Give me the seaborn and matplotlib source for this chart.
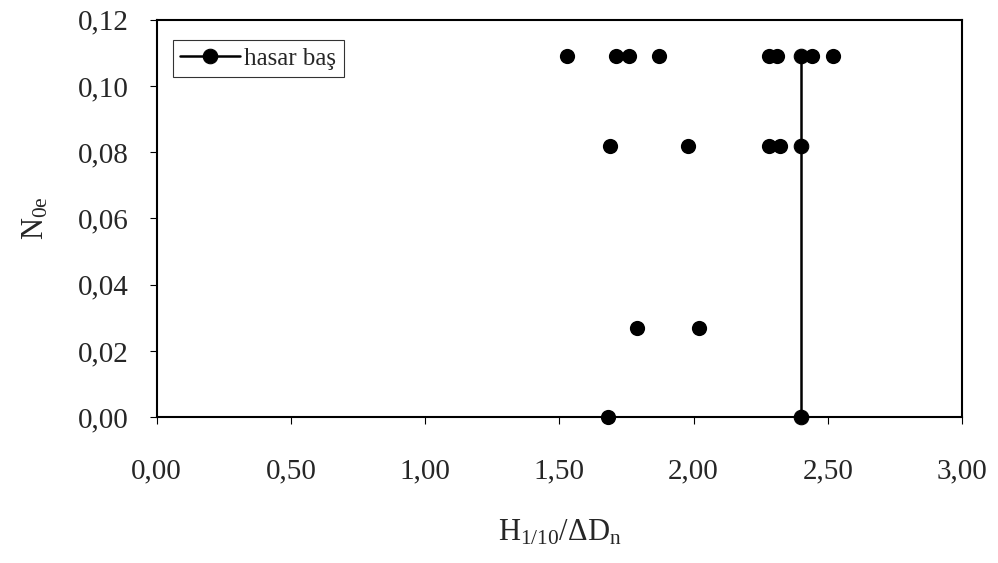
import matplotlib
matplotlib.use("Agg")
import matplotlib.pyplot as plt
import seaborn as sns

# damage onset series (connected)
hasar_x = [2.40, 2.40, 2.40]
hasar_y = [0.000, 0.082, 0.109]

# remaining measured points
pts_x = [1.53, 1.71, 1.76, 1.87, 2.28, 2.31, 2.44, 2.52,
         1.69, 1.98, 2.28, 2.32,
         1.79, 2.02,
         1.68]
pts_y = [0.109, 0.109, 0.109, 0.109, 0.109, 0.109, 0.109, 0.109,
         0.082, 0.082, 0.082, 0.082,
         0.027, 0.027,
         0.000]

x_ticks = [0.0, 0.5, 1.0, 1.5, 2.0, 2.5, 3.0]
y_ticks = [0.00, 0.02, 0.04, 0.06, 0.08, 0.10, 0.12]

sns.set_theme(style="white")
plt.rcParams['font.family'] = ['Liberation Serif', 'DejaVu Serif']
plt.rcParams['mathtext.fontset'] = 'custom'
plt.rcParams['mathtext.rm'] = 'Liberation Serif'
plt.rcParams['mathtext.it'] = 'Liberation Serif:italic'

fig = plt.figure(figsize=(9.98, 5.63), dpi=100)
ax = fig.add_axes([0.157, 0.259, 0.807, 0.706])

sns.scatterplot(x=pts_x, y=pts_y, ax=ax, color='black', s=120,
                edgecolor='black', linewidth=0, legend=False, zorder=3,
                clip_on=False)
sns.lineplot(x=hasar_x, y=hasar_y, ax=ax, color='black', marker='o',
             markersize=10.5, markeredgecolor='black', linewidth=1.8,
             estimator=None, sort=False, label='hasar baş', zorder=4,
             clip_on=False)

ax.set_xlim(0, 3.0)
ax.set_ylim(0, 0.12)
ax.set_xticks(x_ticks)
ax.set_yticks(y_ticks)
ax.set_xticklabels([f"{v:.2f}".replace('.', ',') for v in x_ticks], fontsize=21)
ax.set_yticklabels([f"{v:.2f}".replace('.', ',') for v in y_ticks], fontsize=21)
ax.tick_params(axis='both', direction='out', length=5, width=0.8, color='black',
               bottom=True, left=True)
ax.tick_params(axis='y', pad=15)
ax.tick_params(axis='x', pad=25)

for sp in ax.spines.values():
    sp.set_color('black')
    sp.set_linewidth(1.5)

ax.set_xlabel(r'$\mathrm{H}_{\mathrm{1/10}}/\Delta\mathrm{D}_{\mathrm{n}}$', fontsize=22, labelpad=24)
ax.set_ylabel(r'$\mathrm{N}_{\mathrm{0e}}$', fontsize=22, labelpad=20)

leg = ax.legend(loc='upper left', bbox_to_anchor=(0.02, 0.95), fontsize=18,
                frameon=True, fancybox=False, borderpad=0.3, handlelength=2.4,
                handletextpad=0.15, borderaxespad=0.0)
leg.get_frame().set_edgecolor('black')
leg.get_frame().set_linewidth(0.8)

fig.savefig('out.png', dpi=100)
